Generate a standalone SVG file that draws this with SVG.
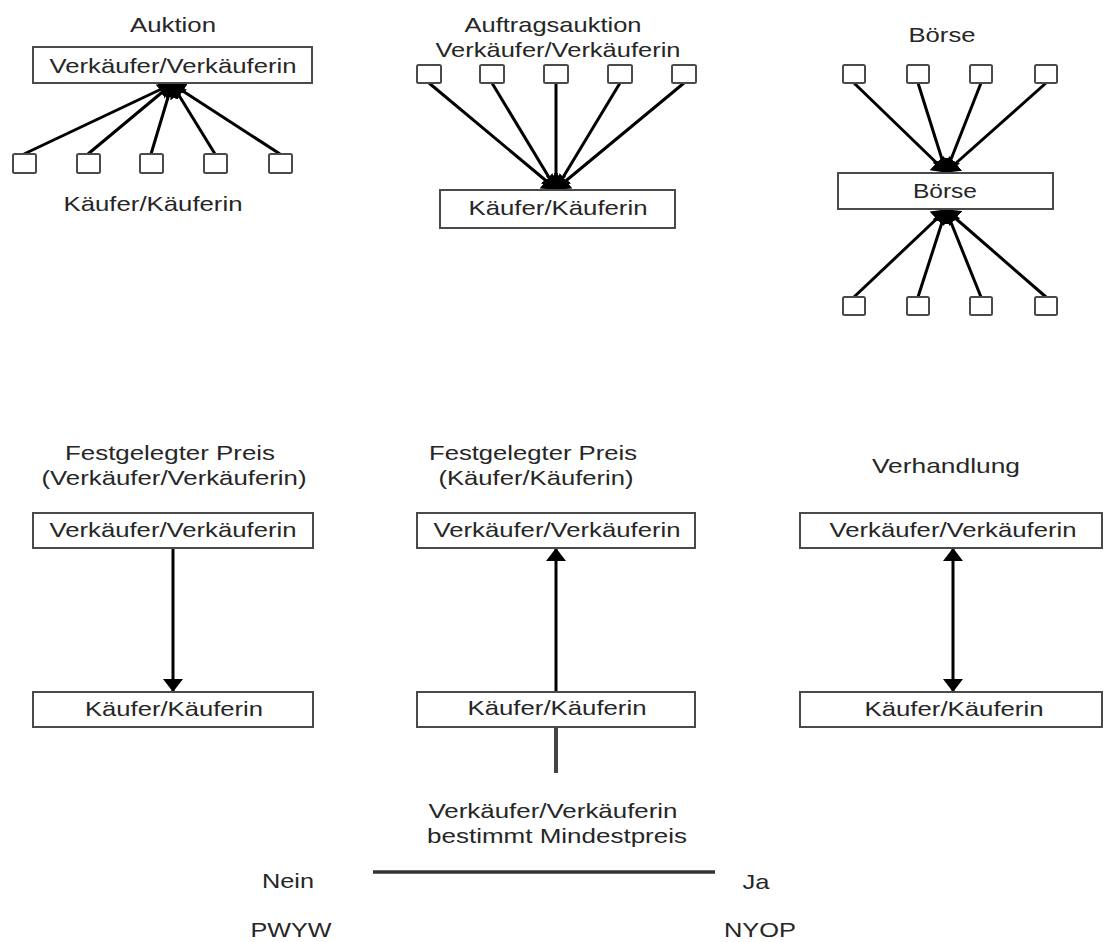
<svg xmlns="http://www.w3.org/2000/svg" width="1103" height="942" viewBox="0 0 1103 942">
<style>
  .box { fill: #ffffff; stroke: #4a4a4a; stroke-width: 2; }
  .sq { fill: #ffffff; stroke: #4a4a4a; stroke-width: 2; }
  .t { font-family: "Liberation Sans", Arial, sans-serif; font-size: 21px; fill: #262626; text-anchor: middle; }
  .fan { stroke: #000000; stroke-width: 3; fill: none; marker-end: url(#fanhead); }
  .arr { stroke: #000000; stroke-width: 3; fill: none; }
</style>
<defs>
  <marker id="fanhead" viewBox="0 0 14 20" refX="13" refY="10" markerWidth="14" markerHeight="20" markerUnits="userSpaceOnUse" orient="auto">
    <path d="M0,0 L14,10 L0,20 z" fill="#000000"/>
  </marker>
  <marker id="head" viewBox="0 0 13 20" refX="12" refY="10" markerWidth="13" markerHeight="20" markerUnits="userSpaceOnUse" orient="auto-start-reverse">
    <path d="M0,0 L13,10 L0,20 z" fill="#000000"/>
  </marker>
</defs>
<rect width="1103" height="942" fill="#ffffff"/>

<g id="connectors">
  <!-- Auktion -->
  <line class="fan" x1="24" y1="154" x2="172" y2="84"/>
  <line class="fan" x1="88" y1="154" x2="172" y2="84"/>
  <line class="fan" x1="151" y1="154" x2="172" y2="84"/>
  <line class="fan" x1="215" y1="154" x2="172" y2="84"/>
  <line class="fan" x1="280" y1="154" x2="172" y2="84"/>
  <!-- Auftragsauktion -->
  <line class="fan" x1="429" y1="83" x2="556" y2="189"/>
  <line class="fan" x1="492" y1="83" x2="556" y2="189"/>
  <line class="fan" x1="556" y1="83" x2="556" y2="189"/>
  <line class="fan" x1="620" y1="83" x2="556" y2="189"/>
  <line class="fan" x1="684" y1="83" x2="556" y2="189"/>
  <!-- Börse top -->
  <line class="fan" x1="854" y1="83" x2="946" y2="172"/>
  <line class="fan" x1="918" y1="83" x2="946" y2="172"/>
  <line class="fan" x1="981" y1="83" x2="946" y2="172"/>
  <line class="fan" x1="1046" y1="83" x2="946" y2="172"/>
  <!-- Börse bottom -->
  <line class="fan" x1="854" y1="297" x2="946" y2="210"/>
  <line class="fan" x1="918" y1="297" x2="946" y2="210"/>
  <line class="fan" x1="981" y1="297" x2="946" y2="210"/>
  <line class="fan" x1="1046" y1="297" x2="946" y2="210"/>
  <!-- Festgelegter Preis (Verkäufer) -->
  <line class="arr" x1="173" y1="548" x2="173" y2="691" marker-end="url(#head)"/>
  <!-- Festgelegter Preis (Käufer) -->
  <line class="arr" x1="556" y1="692" x2="556" y2="549" marker-end="url(#head)"/>
  <line x1="556" y1="727" x2="556" y2="773" stroke="#444444" stroke-width="4"/>
  <!-- Verhandlung -->
  <line class="arr" x1="953" y1="549" x2="953" y2="691" marker-start="url(#head)" marker-end="url(#head)"/>
  <!-- Mindestpreis scale -->
  <line x1="373" y1="872" x2="715" y2="872" stroke="#333333" stroke-width="3.5"/>
</g>

<g id="auktion">
  <text class="t" x="173" y="32" textLength="86" lengthAdjust="spacingAndGlyphs">Auktion</text>
  <g id="auktion-seller">
    <rect class="box" x="33" y="47" width="279" height="36"/>
    <text class="t" x="173" y="73" textLength="247" lengthAdjust="spacingAndGlyphs">Verkäufer/Verkäuferin</text>
  </g>
  <g id="auktion-buyers">
    <rect class="sq" x="13" y="154" width="23" height="19" rx="1.5"/>
    <rect class="sq" x="77" y="154" width="23" height="19" rx="1.5"/>
    <rect class="sq" x="140" y="154" width="23" height="19" rx="1.5"/>
    <rect class="sq" x="204" y="154" width="23" height="19" rx="1.5"/>
    <rect class="sq" x="269" y="154" width="23" height="19" rx="1.5"/>
    <text class="t" x="153" y="211" textLength="179" lengthAdjust="spacingAndGlyphs">Käufer/Käuferin</text>
  </g>
</g>

<g id="auftragsauktion">
  <text class="t" x="553" y="32" textLength="177" lengthAdjust="spacingAndGlyphs">Auftragsauktion</text>
  <text class="t" x="558" y="57" textLength="245" lengthAdjust="spacingAndGlyphs">Verkäufer/Verkäuferin</text>
  <g id="auftrag-sellers">
    <rect class="sq" x="417" y="65" width="24" height="18" rx="1.5"/>
    <rect class="sq" x="480" y="65" width="24" height="18" rx="1.5"/>
    <rect class="sq" x="544" y="65" width="24" height="18" rx="1.5"/>
    <rect class="sq" x="608" y="65" width="24" height="18" rx="1.5"/>
    <rect class="sq" x="672" y="65" width="24" height="18" rx="1.5"/>
  </g>
  <g id="auftrag-buyer">
    <rect class="box" x="440" y="190" width="235" height="38"/>
    <text class="t" x="558" y="215" textLength="179" lengthAdjust="spacingAndGlyphs">Käufer/Käuferin</text>
  </g>
</g>

<g id="boerse">
  <text class="t" x="942" y="42" textLength="67" lengthAdjust="spacingAndGlyphs">Börse</text>
  <g id="boerse-top">
    <rect class="sq" x="843" y="65" width="22" height="18" rx="1.5"/>
    <rect class="sq" x="907" y="65" width="22" height="18" rx="1.5"/>
    <rect class="sq" x="970" y="65" width="22" height="18" rx="1.5"/>
    <rect class="sq" x="1035" y="65" width="22" height="18" rx="1.5"/>
  </g>
  <g id="boerse-box">
    <rect class="box" x="838" y="173" width="215" height="36"/>
    <text class="t" x="945" y="198" textLength="64" lengthAdjust="spacingAndGlyphs">Börse</text>
  </g>
  <g id="boerse-bottom">
    <rect class="sq" x="843" y="297" width="22" height="18" rx="1.5"/>
    <rect class="sq" x="907" y="297" width="22" height="18" rx="1.5"/>
    <rect class="sq" x="970" y="297" width="22" height="18" rx="1.5"/>
    <rect class="sq" x="1035" y="297" width="22" height="18" rx="1.5"/>
  </g>
</g>

<g id="festpreis-verkaeufer">
  <text class="t" x="170" y="460" textLength="210" lengthAdjust="spacingAndGlyphs">Festgelegter Preis</text>
  <text class="t" x="174" y="485" textLength="265" lengthAdjust="spacingAndGlyphs">(Verkäufer/Verkäuferin)</text>
  <g id="fv-seller">
    <rect class="box" x="33" y="513" width="280" height="35"/>
    <text class="t" x="173" y="537" textLength="247" lengthAdjust="spacingAndGlyphs">Verkäufer/Verkäuferin</text>
  </g>
  <g id="fv-buyer">
    <rect class="box" x="33" y="692" width="280" height="35"/>
    <text class="t" x="174" y="716" textLength="178" lengthAdjust="spacingAndGlyphs">Käufer/Käuferin</text>
  </g>
</g>

<g id="festpreis-kaeufer">
  <text class="t" x="533" y="460" textLength="208" lengthAdjust="spacingAndGlyphs">Festgelegter Preis</text>
  <text class="t" x="536" y="485" textLength="195" lengthAdjust="spacingAndGlyphs">(Käufer/Käuferin)</text>
  <g id="fk-seller">
    <rect class="box" x="417" y="513" width="278" height="35"/>
    <text class="t" x="557" y="537" textLength="247" lengthAdjust="spacingAndGlyphs">Verkäufer/Verkäuferin</text>
  </g>
  <g id="fk-buyer">
    <rect class="box" x="417" y="692" width="278" height="35"/>
    <text class="t" x="557" y="715" textLength="179" lengthAdjust="spacingAndGlyphs">Käufer/Käuferin</text>
  </g>
</g>

<g id="verhandlung">
  <text class="t" x="946" y="473" textLength="148" lengthAdjust="spacingAndGlyphs">Verhandlung</text>
  <g id="vh-seller">
    <rect class="box" x="800" y="513" width="302" height="35"/>
    <text class="t" x="953" y="537" textLength="247" lengthAdjust="spacingAndGlyphs">Verkäufer/Verkäuferin</text>
  </g>
  <g id="vh-buyer">
    <rect class="box" x="800" y="692" width="302" height="35"/>
    <text class="t" x="954" y="716" textLength="179" lengthAdjust="spacingAndGlyphs">Käufer/Käuferin</text>
  </g>
</g>

<g id="mindestpreis">
  <text class="t" x="553" y="818" textLength="249" lengthAdjust="spacingAndGlyphs">Verkäufer/Verkäuferin</text>
  <text class="t" x="557" y="843" textLength="260" lengthAdjust="spacingAndGlyphs">bestimmt Mindestpreis</text>
  <text class="t" x="288" y="888" textLength="52" lengthAdjust="spacingAndGlyphs">Nein</text>
  <text class="t" x="756" y="889" textLength="27" lengthAdjust="spacingAndGlyphs">Ja</text>
  <text class="t" x="291" y="937" textLength="81" lengthAdjust="spacingAndGlyphs">PWYW</text>
  <text class="t" x="760" y="937" textLength="72" lengthAdjust="spacingAndGlyphs">NYOP</text>
</g>
</svg>
